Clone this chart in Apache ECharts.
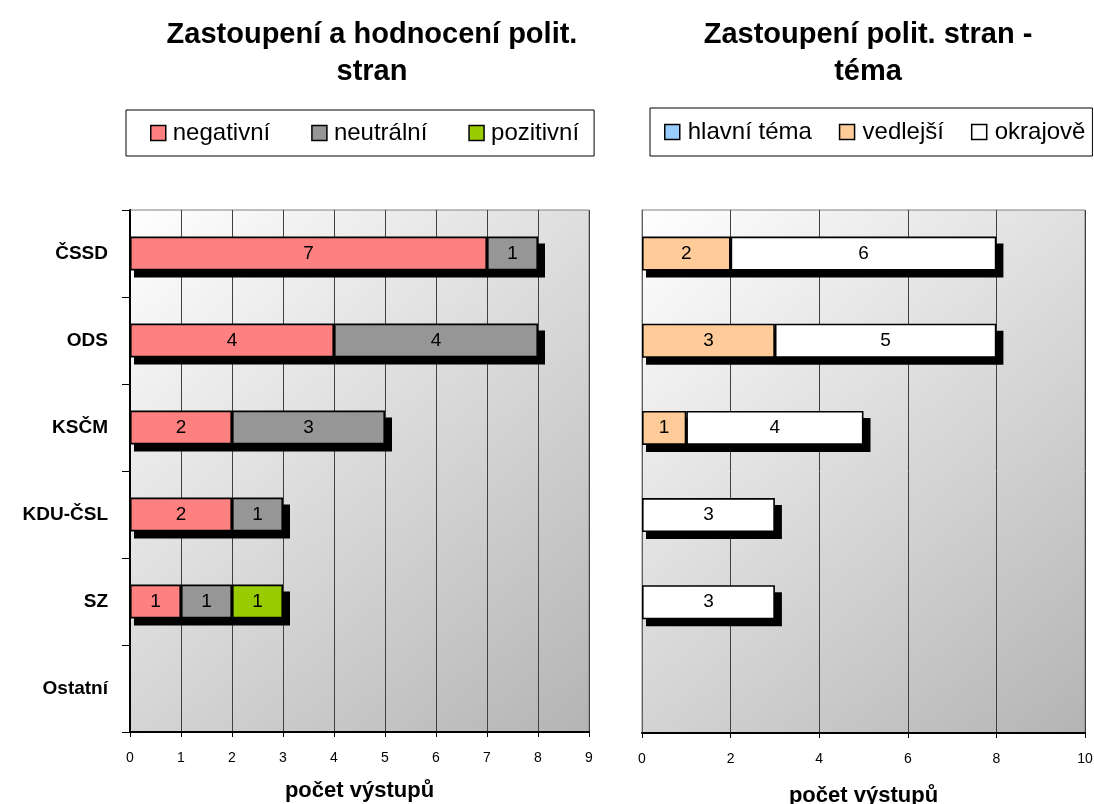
<!DOCTYPE html>
<html><head><meta charset="utf-8">
<script src="https://cdn.jsdelivr.net/npm/echarts@6/dist/echarts.min.js"></script>
<style>html,body{margin:0;padding:0;background:#fff}#c{width:1094px;height:804px}</style>
</head><body><div id="c"></div>
<script>
const categories = ['ČSSD','ODS','KSČM','KDU-ČSL','SZ','Ostatní'];
const leftTitle = 'Zastoupení a hodnocení polit.\nstran';
const rightTitle = 'Zastoupení polit. stran -\ntéma';
const axisName = 'počet výstupů';
const negativni = [7,4,2,2,1,null];
const neutralni = [1,4,3,1,1,null];
const pozitivni = [null,null,null,null,1,null];
const hlavni = [null,null,null,null,null,null];
const vedlejsi = [2,3,1,null,null,null];
const okrajove = [6,5,4,3,3,null];
const leftNames = ['negativní','neutrální','pozitivní'];
const rightNames = ['hlavní téma','vedlejší','okrajově'];
const leftColors = ['#FF8080','#969696','#99CC00'];
const rightColors = ['#99CCFF','#FFCC99','#FFFFFF'];

const FONT = 'Liberation Sans, Arial, sans-serif';
const BAR = 0.39;
const chart = echarts.init(document.getElementById('c'), null, {renderer:'canvas'});
const bg = () => new echarts.graphic.LinearGradient(0,0,1,1,[{offset:0,color:'#ffffff'},{offset:1,color:'#b4b4b4'}]);

function totals(arrs){
  return categories.map((c,i)=>[arrs.reduce((s,a)=>s+(a[i]||0),0), i]).filter(d=>d[0]>0);
}

function barSeries(name, data, color, axisIdx, stack){
  return {
    name, type:'bar', stack, data, z:3,
    xAxisIndex:axisIdx, yAxisIndex:axisIdx,
    barWidth:(BAR*100)+'%',
    itemStyle:{color, borderColor:'#000', borderWidth:1.6},
    label:{show:true, position:'inside', color:'#000', fontSize:19, fontFamily:FONT,
      formatter:p => (p.value==null ? '' : String(p.value))},
    emphasis:{disabled:true}
  };
}

function shadowSeries(arrs, axisIdx){
  return {
    type:'custom', xAxisIndex:axisIdx, yAxisIndex:axisIdx, z:2, silent:true,
    data: totals(arrs), encode:{x:0, y:1},
    renderItem:(params, api)=>{
      const v = api.value(0), cat = api.value(1);
      const p0 = api.coord([0, cat]), p1 = api.coord([v, cat]);
      const h = api.size([0,1])[1]*BAR;
      return {type:'rect', shape:{x:p0[0]+4, y:p0[1]-h/2+7, width:p1[0]-p0[0]+3, height:h}, style:{fill:'#000'}};
    }
  };
}

const legendCommon = {
  orient:'horizontal', icon:'rect', itemWidth:15, itemHeight:15,
  borderColor:'#000', borderWidth:1, backgroundColor:'#fff',
  textStyle:{fontSize:24, fontFamily:FONT, color:'#000', padding:[0,0,0,2]},
  itemStyle:{borderColor:'#000', borderWidth:1.5},
  selectedMode:false
};

const xCommon = (max, interval, gap) => ({
  type:'value', min:0, max, interval,
  axisLine:{show:true, lineStyle:{color:'#000', width:2}},
  axisTick:{show:true, length:5, lineStyle:{color:'#000', width:1}},
  axisLabel:{color:'#000', fontSize:14, fontFamily:FONT, margin:19},
  splitLine:{show:true, lineStyle:{color:'#404040', width:1}},
  name:axisName, nameLocation:'middle', nameGap:gap,
  nameTextStyle:{fontSize:22, fontWeight:'bold', fontFamily:FONT, color:'#000'}
});

chart.setOption({
  animation:false,
  title:[
    {text:leftTitle, left:367, top:11, textAlign:'center',
      textStyle:{fontSize:29, fontWeight:'bold', fontFamily:FONT, color:'#000', lineHeight:37}},
    {text:rightTitle, left:863, top:11, textAlign:'center',
      textStyle:{fontSize:29, fontWeight:'bold', fontFamily:FONT, color:'#000', lineHeight:37}}
  ],
  legend:[
    Object.assign({}, legendCommon, {data:leftNames, left:126, top:110, itemGap:41, padding:[11,15,11,24]}),
    Object.assign({}, legendCommon, {data:rightNames, left:650, top:108, width:470, itemGap:27,
      textStyle:Object.assign({}, legendCommon.textStyle, {padding:[0,0,0,3]}), padding:[12,7,12,14]})
  ],
  grid:[
    {left:130, right:505, top:210, bottom:72, outerBoundsMode:'none', show:true, backgroundColor:bg(), borderColor:'#808080', borderWidth:1},
    {left:642, right:9, top:210, bottom:71, outerBoundsMode:'none', show:true, backgroundColor:bg(), borderColor:'#808080', borderWidth:1}
  ],
  xAxis:[
    Object.assign(xCommon(9,1,48), {gridIndex:0}),
    Object.assign(xCommon(10,2,52), {gridIndex:1})
  ],
  yAxis:[
    {type:'category', gridIndex:0, data:categories, inverse:true,
      axisLine:{show:true, lineStyle:{color:'#000', width:2}},
      axisTick:{show:true, length:8, lineStyle:{color:'#000'}},
      axisLabel:{color:'#000', fontSize:19, fontWeight:'bold', fontFamily:FONT, margin:22},
      splitLine:{show:false}},
    {type:'category', gridIndex:1, data:categories, inverse:true,
      axisLine:{show:true, lineStyle:{color:'#606060', width:1}},
      axisTick:{show:false}, axisLabel:{show:false}, splitLine:{show:false}}
  ],
  series:[
    shadowSeries([negativni, neutralni, pozitivni], 0),
    shadowSeries([hlavni, vedlejsi, okrajove], 1),
    barSeries(leftNames[0], negativni, leftColors[0], 0, 'L'),
    barSeries(leftNames[1], neutralni, leftColors[1], 0, 'L'),
    barSeries(leftNames[2], pozitivni, leftColors[2], 0, 'L'),
    barSeries(rightNames[0], hlavni, rightColors[0], 1, 'R'),
    barSeries(rightNames[1], vedlejsi, rightColors[1], 1, 'R'),
    barSeries(rightNames[2], okrajove, rightColors[2], 1, 'R')
  ]
});
</script></body></html>
